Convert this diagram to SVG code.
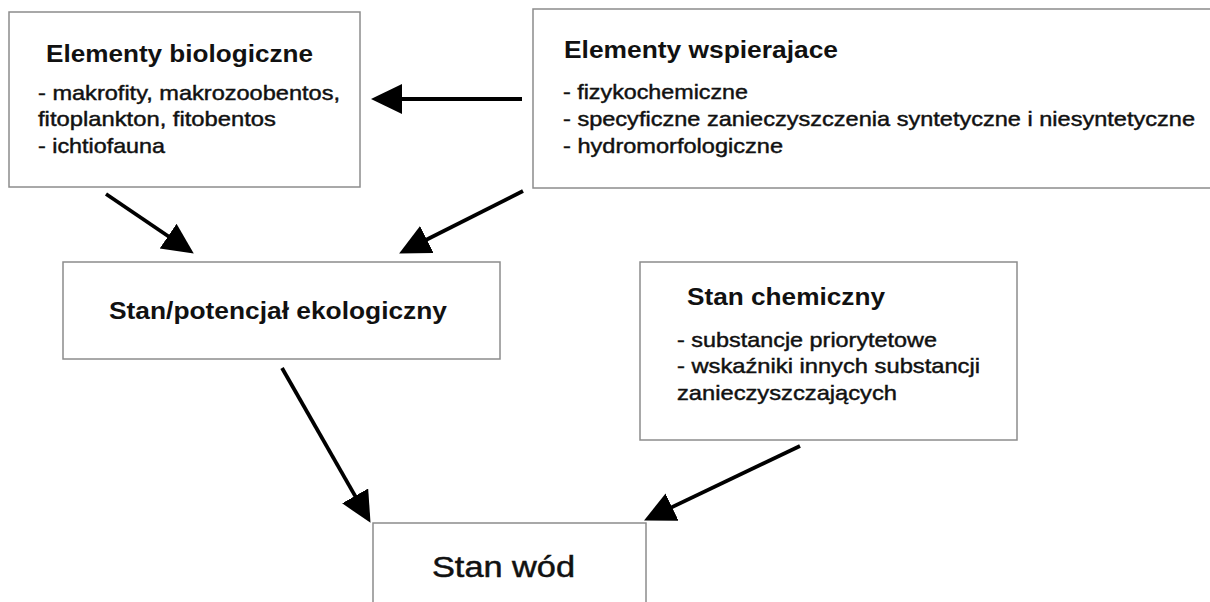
<svg xmlns="http://www.w3.org/2000/svg" width="1210" height="602" viewBox="0 0 1210 602">
<style>
.box{fill:#fff;stroke:#8c8c8c;stroke-width:1.5}
text{font-family:"Liberation Sans",Arial,sans-serif;fill:#111}
.t{font-weight:bold;font-size:23px}
.b{font-size:21px;stroke:#111;stroke-width:0.45}
.c{stroke:#000;stroke-width:3.8;fill:none;marker-end:url(#ah)}
</style>
<defs>
<marker id="ah" markerUnits="userSpaceOnUse" markerWidth="34" markerHeight="32" refX="10" refY="15" orient="auto">
<path d="M0,0 L31,15 L0,30 z" fill="#000"/>
</marker>
</defs>
<rect width="1210" height="602" fill="#fff"/>
<g id="n1">
<rect class="box" x="9" y="12" width="351" height="175"/>
<text class="t" x="46" y="62" textLength="267" lengthAdjust="spacingAndGlyphs" style="font-size:24px">Elementy biologiczne</text>
<text class="b" x="38" y="100" textLength="302" lengthAdjust="spacingAndGlyphs">- makrofity, makrozoobentos,</text>
<text class="b" x="38" y="126" textLength="238" lengthAdjust="spacingAndGlyphs">fitoplankton, fitobentos</text>
<text class="b" x="38" y="153" textLength="127" lengthAdjust="spacingAndGlyphs">- ichtiofauna</text>
</g>
<g id="n2">
<rect class="box" x="533" y="9" width="690" height="179"/>
<text class="t" x="564" y="58" textLength="274" lengthAdjust="spacingAndGlyphs">Elementy wspierajace</text>
<text class="b" x="563" y="99" textLength="185" lengthAdjust="spacingAndGlyphs">- fizykochemiczne</text>
<text class="b" x="563" y="126" textLength="632" lengthAdjust="spacingAndGlyphs">- specyficzne zanieczyszczenia syntetyczne i niesyntetyczne</text>
<text class="b" x="563" y="153" textLength="220" lengthAdjust="spacingAndGlyphs">- hydromorfologiczne</text>
</g>
<g id="n3">
<rect class="box" x="63" y="262" width="437" height="97"/>
<text class="t" x="109" y="319" textLength="338" lengthAdjust="spacingAndGlyphs" style="font-size:24px">Stan/potencjał ekologiczny</text>
</g>
<g id="n4">
<rect class="box" x="640" y="262" width="377" height="178"/>
<text class="t" x="687" y="305" textLength="198" lengthAdjust="spacingAndGlyphs">Stan chemiczny</text>
<text class="b" x="677" y="347" textLength="260" lengthAdjust="spacingAndGlyphs">- substancje priorytetowe</text>
<text class="b" x="677" y="373" textLength="303" lengthAdjust="spacingAndGlyphs">- wskaźniki innych substancji</text>
<text class="b" x="677" y="400" textLength="220" lengthAdjust="spacingAndGlyphs">zanieczyszczających</text>
</g>
<g id="n5">
<rect class="box" x="373" y="523" width="273" height="100"/>
<text x="432" y="577" textLength="143" lengthAdjust="spacingAndGlyphs" style="font-size:30px;stroke:#111;stroke-width:0.5">Stan wód</text>
</g>
<g id="connectors">
<line class="c" x1="522" y1="99" x2="392" y2="99"/>
<line class="c" x1="106" y1="194" x2="176.4" y2="241.8"/>
<line class="c" x1="523" y1="191" x2="417.9" y2="244"/>
<line class="c" x1="282" y1="368" x2="360.1" y2="504.6"/>
<line class="c" x1="800" y1="446" x2="663" y2="511.4"/>
</g>
</svg>
